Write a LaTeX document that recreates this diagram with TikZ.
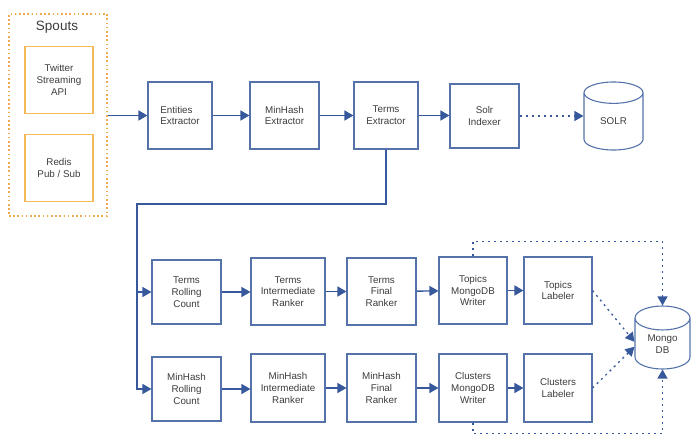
\documentclass[tikz,border=0pt]{standalone}
\usepackage{fontspec}
\setmainfont{Liberation Sans}
\usetikzlibrary{arrows.meta,shapes.geometric}
\definecolor{boxblue}{RGB}{85,115,170}
\definecolor{flowblue}{RGB}{55,88,155}
\definecolor{orangeb}{RGB}{245,185,90}
\definecolor{oranged}{RGB}{240,170,80}
\definecolor{txt}{RGB}{60,60,60}
\tikzset{
  stage/.style={draw=boxblue, line width=1.1pt, inner sep=0pt, align=center, text=txt,
    font=\fontsize{9.8}{11.8}\selectfont, minimum width=#1},
  stage/.default=68pt,
  spoutbox/.style={draw=orangeb, line width=1.2pt, inner sep=0pt, align=center, text=txt,
    font=\fontsize{9.8}{11.8}\selectfont, minimum width=68pt, minimum height=67pt},
  db/.style={draw=boxblue, line width=1.1pt, shape=cylinder, shape border rotate=90, aspect=0.8,
    anchor=shape center, inner sep=0pt, text=txt, font=\fontsize{9.8}{11.8}\selectfont, align=center},
  flow/.style={draw=flowblue, line width=1.4pt, -{Triangle[length=9pt,width=10pt]}},
  dotflow/.style={draw=flowblue, line width=1.3pt, dash pattern=on 2pt off 4pt,
    -{Triangle[length=9pt,width=10pt]}},
}
\begin{document}
\begin{tikzpicture}[x=1pt,y=-1pt]
\useasboundingbox (0,0) rectangle (695,436);
% Spouts group
\node[draw=oranged, line width=1.2pt, dash pattern=on 1.6pt off 2.6pt, minimum width=98pt, minimum height=202pt, inner sep=0pt] (spouts) at (58,115) {};
\node[text=txt, font=\fontsize{13.5}{15}\selectfont, inner sep=0pt] (spl) at (57,27) {Spouts};
\node[spoutbox] (twitter) at (59,80) {Twitter\\Streaming\\API};
\node[spoutbox] (redis) at (59,168) {Redis\\Pub / Sub};
% top row
\node[stage=64pt, minimum height=67pt, align=left] (ent) at (180,115.5) {Entities\\Extractor};
\node[stage=69pt, minimum height=67pt] (mhx) at (284.5,115.5) {MinHash\\Extractor};
\node[stage=64pt, minimum height=67pt] (tex) at (386,115.5) {Terms\\Extractor};
\node[stage=69pt, minimum height=64pt] (solrix) at (484.5,116) {Solr\\Indexer};
\node[db, minimum width=59pt, minimum height=68pt] (solr) at (613.5,116) {SOLR};
% terms row
\node[stage=69pt, minimum height=64pt] (trc) at (186.5,292) {Terms\\Rolling\\Count};
\node[stage=74pt, minimum height=67pt] (tir) at (288,291.5) {Terms\\Intermediate\\Ranker};
\node[stage=69pt, minimum height=67pt] (tfr) at (381.5,291.5) {Terms\\Final\\Ranker};
\node[stage=68pt, minimum height=67pt] (tmw) at (473,290.5) {Topics\\MongoDB\\Writer};
\node[stage=68pt, minimum height=67pt] (tl) at (558,290.5) {Topics\\Labeler};
% minhash row
\node[stage=69pt, minimum height=64pt] (mrc) at (186.5,389) {MinHash\\Rolling\\Count};
\node[stage=74pt, minimum height=68pt] (mir) at (288,388) {MinHash\\Intermediate\\Ranker};
\node[stage=69pt, minimum height=68pt] (mfr) at (381.5,388) {MinHash\\Final\\Ranker};
\node[stage=68pt, minimum height=68pt] (cmw) at (473,388) {Clusters\\MongoDB\\Writer};
\node[stage=68pt, minimum height=68pt] (cl) at (558,388) {Clusters\\Labeler};
% Mongo
\node[db, minimum width=55pt, minimum height=63pt] (mongo) at (662.5,337.5) {Mongo\\DB};
% connectors
\draw[flow] (spouts.east |- ent.west) -- (ent.west);
\draw[flow] (ent) -- (mhx);
\draw[flow] (mhx) -- (tex);
\draw[flow] (tex.east) -- (tex.east -| solrix.west);
\draw[dotflow] (solrix.east) -- (solrix.east -| solr.west);
\coordinate (bend) at (137,204);
\draw[flow] (tex.south) |- (bend) |- (mrc.west);
\draw[flow] (bend |- trc.west) -- (trc.west);
\draw[flow] (trc) -- (trc.east -| tir.west);
\draw[flow] (tir) -- (tfr);
\draw[flow] (tfr) -- (tmw);
\draw[flow] (tmw) -- (tl);
\draw[flow] (mrc.east) -- (mrc.east -| mir.west);
\draw[flow] (mir) -- (mfr);
\draw[flow] (mfr) -- (cmw);
\draw[flow] (cmw) -- (cl);
\draw[dotflow] (tl.east) -- ([yshift=2pt]mongo.west);
\draw[dotflow] (cl.east) -- ([yshift=-3pt]mongo.west);
\draw[dotflow] (tmw.north) -- ++(0,-15) -| (mongo.north);
\draw[dotflow] (cmw.south) -- ++(0,11) -| (mongo.south);
\end{tikzpicture}
\end{document}
